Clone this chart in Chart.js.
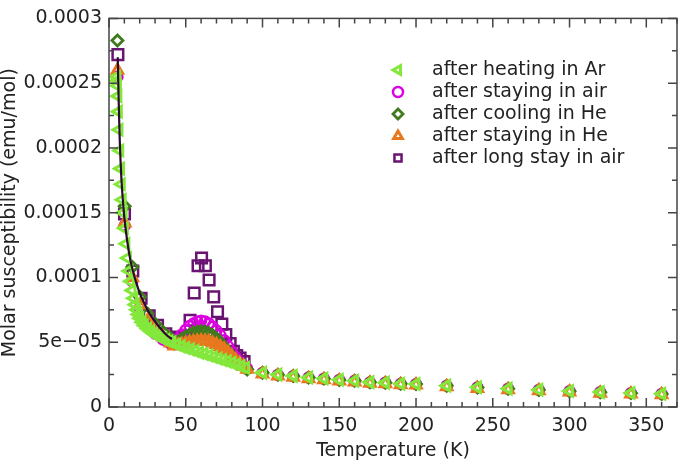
<!DOCTYPE html>
<html>
<head>
<meta charset="utf-8">
<script src="https://cdn.jsdelivr.net/npm/chart.js@4/dist/chart.umd.min.js"></script>
<style>
  html, body { margin: 0; padding: 0; background: #fff; }
</style>
</head>
<body>
<canvas id="myChart" width="685" height="464"></canvas>
<script>
// values (T in K, chi in emu/mol)
const tArHeat = [4.9, 5.2, 5.5, 5.8, 6.1, 6.5, 7, 7.5, 8, 8.6, 9.2, 10, 11, 12, 13, 14, 15, 16, 17, 18, 19, 20, 21.5, 23, 25, 27, 29, 31, 33, 35, 37, 39, 41,
  44, 47, 50, 53, 56, 59, 62, 65, 68, 71, 74, 77, 80, 83, 86, 89,
  100, 110, 120, 130, 140, 150, 160, 170, 180, 190, 200, 220, 240, 260, 280, 300, 320, 340, 360]
const chiArHeat = [2.55e-4, 2.52e-4, 2.48e-4, 2.4e-4, 2.28e-4, 2.14e-4, 1.98e-4, 1.84e-4, 1.72e-4, 1.6e-4, 1.5e-4, 1.38e-4, 1.26e-4, 1.15e-4, 1.05e-4, 9.7e-5, 9.0e-5, 8.4e-5, 7.9e-5, 7.5e-5, 7.15e-5, 6.85e-5, 6.55e-5, 6.3e-5, 6.05e-5, 5.85e-5, 5.65e-5, 5.5e-5, 5.38e-5, 5.28e-5, 5.18e-5, 5.08e-5, 5.0e-5,
  4.82e-5, 4.68e-5, 4.55e-5, 4.45e-5, 4.33e-5, 4.2e-5, 4.1e-5, 3.98e-5, 3.86e-5, 3.75e-5, 3.63e-5, 3.52e-5, 3.4e-5, 3.28e-5, 3.15e-5, 3.03e-5,
  2.65e-5, 2.5e-5, 2.4e-5, 2.28e-5, 2.2e-5, 2.1e-5, 2.03e-5, 1.92e-5, 1.88e-5, 1.8e-5, 1.78e-5, 1.65e-5, 1.52e-5, 1.42e-5, 1.33e-5, 1.23e-5, 1.15e-5, 1.08e-5, 1.02e-5]

const tPeak = [5.5, 10.2, 15.2, 20.2, 25.2, 30.2, 35.2, 40, 42.5, 45, 47.5, 50, 52.5, 55, 57.5, 60, 62.5, 65, 67.5, 70, 72.5, 75, 77.5, 80, 82.5, 85, 87.5, 90,
  100, 110, 120, 130, 140, 150, 160, 170, 180, 190, 200, 220, 240, 260, 280, 300, 320, 340, 360]
const chiAirStay = [2.55e-4, 1.4e-4, 9.7e-5, 7.6e-5, 6.4e-5, 5.65e-5, 5.2e-5, 4.9e-5, 5.0e-5, 5.25e-5, 5.6e-5, 5.95e-5, 6.25e-5, 6.45e-5, 6.6e-5, 6.65e-5, 6.6e-5, 6.45e-5, 6.2e-5, 5.9e-5, 5.55e-5, 5.15e-5, 4.7e-5, 4.25e-5, 3.85e-5, 3.5e-5, 3.2e-5, 2.95e-5,
  2.63e-5, 2.48e-5, 2.38e-5, 2.27e-5, 2.18e-5, 2.09e-5, 2.02e-5, 1.9e-5, 1.87e-5, 1.78e-5, 1.76e-5, 1.64e-5, 1.51e-5, 1.41e-5, 1.32e-5, 1.22e-5, 1.14e-5, 1.07e-5, 1.01e-5]
const chiHeCool = [2.83e-4, 1.55e-4, 1.08e-4, 8.5e-5, 7.2e-5, 6.4e-5, 5.8e-5, 5.3e-5, 4.9e-5, 5.05e-5, 5.25e-5, 5.45e-5, 5.6e-5, 5.75e-5, 5.82e-5, 5.85e-5, 5.82e-5, 5.72e-5, 5.55e-5, 5.3e-5, 5.0e-5, 4.65e-5, 4.3e-5, 3.95e-5, 3.6e-5, 3.35e-5, 3.1e-5, 2.9e-5,
  2.64e-5, 2.49e-5, 2.39e-5, 2.27e-5, 2.19e-5, 2.09e-5, 2.02e-5, 1.91e-5, 1.87e-5, 1.79e-5, 1.77e-5, 1.64e-5, 1.51e-5, 1.41e-5, 1.32e-5, 1.22e-5, 1.14e-5, 1.07e-5, 1.01e-5]
const chiHeStay = [2.6e-4, 1.42e-4, 1.0e-4, 7.9e-5, 6.7e-5, 5.9e-5, 5.4e-5, 4.95e-5, 4.7e-5, 4.78e-5, 4.85e-5, 4.93e-5, 5.0e-5, 5.06e-5, 5.1e-5, 5.12e-5, 5.1e-5, 5.05e-5, 4.95e-5, 4.82e-5, 4.65e-5, 4.45e-5, 4.2e-5, 3.92e-5, 3.62e-5, 3.38e-5, 3.15e-5, 2.92e-5,
  2.55e-5, 2.4e-5, 2.3e-5, 2.18e-5, 2.1e-5, 2.0e-5, 1.93e-5, 1.83e-5, 1.79e-5, 1.71e-5, 1.69e-5, 1.56e-5, 1.43e-5, 1.33e-5, 1.25e-5, 1.15e-5, 1.07e-5, 1.0e-5, 0.94e-5]

const tLongAir = [5.8, 10.1, 15.5, 20.9, 26.2, 31.6, 37, 42, 45.5, 48, 50.5, 52.8, 55.5, 58, 60.3, 62.8, 65.2, 68.2, 70.7, 73.5, 76.1, 78.9, 81, 83.2, 85.4, 88]
const chiLongAir = [2.72e-4, 1.49e-4, 1.05e-4, 8.4e-5, 7.05e-5, 6.3e-5, 5.65e-5, 5.4e-5, 5.25e-5, 5.15e-5, 5.5e-5, 6.7e-5, 8.8e-5, 1.09e-4, 1.15e-4, 1.09e-4, 9.8e-5, 8.5e-5, 7.35e-5, 6.4e-5, 5.6e-5, 4.9e-5, 4.3e-5, 3.97e-5, 3.77e-5, 3.5e-5]

const tFit = [5.7, 6, 6.5, 7, 8, 9, 10, 12, 14, 16, 18, 20, 23, 26, 30, 34, 38, 41]
const chiFit = [2.7e-4, 2.52e-4, 2.27e-4, 2.06e-4, 1.78e-4, 1.6e-4, 1.46e-4, 1.27e-4, 1.13e-4, 1.03e-4, 9.5e-5, 8.8e-5, 8.0e-5, 7.3e-5, 6.6e-5, 6.0e-5, 5.5e-5, 5.25e-5]

const seriesLabels = ['after heating in Ar', 'after staying in air', 'after cooling in He', 'after staying in He', 'after long stay in air']
const yTickLabels = ['0', '5e\u221205', '0.0001', '0.00015', '0.0002', '0.00025', '0.0003']

const FONT = '"DejaVu Sans", sans-serif'
const ctx = document.getElementById('myChart')

const pts = (T, v) => T.map((t, i) => ({ x: t, y: v[i] }))

// dataset 0 is drawn on top
const datasets = [
  { label: 'fit', data: pts(tFit, chiFit), showLine: true, pointRadius: 0, borderColor: '#2b0a30', borderWidth: 2.2, cubicInterpolationMode: 'monotone' },
  { label: seriesLabels[0], data: pts(tArHeat, chiArHeat), pointStyle: 'triangle', pointRotation: -90, pointRadius: 6, borderWidth: 3, borderColor: '#84e83c', backgroundColor: 'rgba(0,0,0,0)' },
  { label: seriesLabels[3], data: pts(tPeak, chiHeStay), pointStyle: 'triangle', pointRadius: 6, borderWidth: 3, borderColor: '#e8781e', backgroundColor: 'rgba(0,0,0,0)' },
  { label: seriesLabels[2], data: pts(tPeak, chiHeCool), pointStyle: 'rectRot', pointRadius: 5.5, borderWidth: 2.8, borderColor: '#3f7a1c', backgroundColor: 'rgba(0,0,0,0)' },
  { label: seriesLabels[1], data: pts(tPeak, chiAirStay), pointStyle: 'circle', pointRadius: 5, borderWidth: 2.5, borderColor: '#dd00e0', backgroundColor: 'rgba(0,0,0,0)' },
  { label: seriesLabels[4], data: pts(tLongAir, chiLongAir), pointStyle: 'rect', pointRadius: 7.5, borderWidth: 2.5, borderColor: '#6a1472', backgroundColor: 'rgba(0,0,0,0)' }
]

// inward ticks on all four sides + frame
const frameTicks = {
  id: 'frameTicks',
  afterDraw(chart) {
    const { ctx, chartArea: a, scales: { x, y } } = chart
    ctx.save()
    ctx.strokeStyle = '#444'
    ctx.lineWidth = 1.5
    ctx.beginPath()
    x.ticks.forEach(t => {
      const px = x.getPixelForValue(t.value)
      const len = Math.round(t.value) % 50 === 0 ? 9 : 5
      ctx.moveTo(px, a.bottom); ctx.lineTo(px, a.bottom - len)
      ctx.moveTo(px, a.top); ctx.lineTo(px, a.top + len)
    })
    y.ticks.forEach((t, i) => {
      const py = y.getPixelForValue(t.value)
      const len = i % 2 === 0 ? 9 : 5
      ctx.moveTo(a.left, py); ctx.lineTo(a.left + len, py)
      ctx.moveTo(a.right, py); ctx.lineTo(a.right - len, py)
    })
    ctx.stroke()
    ctx.strokeRect(a.left, a.top, a.right - a.left, a.bottom - a.top)
    ctx.restore()
  }
}

// legend inside the plot, top right
const legendOrder = [1, 4, 3, 2, 5]
const insideLegend = {
  id: 'insideLegend',
  afterDraw(chart) {
    const c = chart.ctx
    c.save()
    c.font = '19px ' + FONT
    c.textBaseline = 'middle'
    legendOrder.forEach((idx, i) => {
      const ds = chart.data.datasets[idx]
      const yy = 70 + i * 22
      c.strokeStyle = ds.borderColor
      c.fillStyle = 'rgba(0,0,0,0)'
      c.lineWidth = ds.borderWidth
      Chart.helpers.drawPoint(c, { pointStyle: ds.pointStyle, rotation: ds.pointRotation || 0, radius: Math.min(ds.pointRadius, 5), borderWidth: ds.borderWidth }, 398, yy)
      c.fillStyle = '#222'
      c.fillText(ds.label, 432, yy)
    })
    c.restore()
  }
}

new Chart(ctx, {
  type: 'scatter',
  data: { datasets: datasets },
  options: {
    responsive: false,
    animation: false,
    devicePixelRatio: 1,
    layout: { padding: { left: 0, right: 2, top: 7, bottom: 0 }, autoPadding: false },
    plugins: { legend: { display: false }, tooltip: { enabled: false } },
    scales: {
      x: {
        type: 'linear',
        min: 0,
        max: 370,
        afterFit(scale) { scale.height = 57 },
        grid: { display: false, drawTicks: false },
        border: { display: false },
        ticks: {
          stepSize: 10,
          autoSkip: false,
          maxRotation: 0,
          padding: 8,
          color: '#222',
          font: { family: FONT, size: 19 },
          callback: v => (Math.round(v) % 50 === 0 && v <= 350 ? String(Math.round(v)) : '')
        },
        title: { display: true, text: 'Temperature (K)', color: '#222', font: { family: FONT, size: 19, lineHeight: 1.35 }, padding: 0 }
      },
      y: {
        type: 'linear',
        min: 0,
        max: 0.0003,
        afterFit(scale) { scale.width = 109 },
        grid: { display: false, drawTicks: false },
        border: { display: false },
        ticks: {
          stepSize: 0.000025,
          autoSkip: false,
          padding: 7,
          color: '#222',
          font: { family: FONT, size: 19 },
          callback: (v, i) => (i % 2 === 0 ? yTickLabels[i / 2] : '')
        },
        title: { display: true, text: 'Molar susceptibility (emu/mol)', color: '#222', font: { family: FONT, size: 19, lineHeight: 1.05 }, padding: 0 }
      }
    }
  },
  plugins: [frameTicks, insideLegend]
})
</script>
</body>
</html>
